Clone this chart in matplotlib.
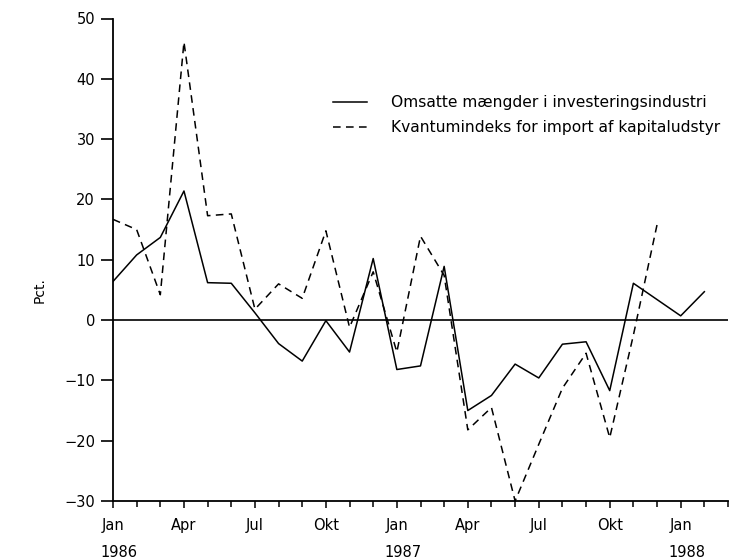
import matplotlib
matplotlib.use("Agg")
import matplotlib.pyplot as plt
import numpy as np

# Data (monthly, Jan 1986 onward)
omsatte = [6.4, 10.8, 13.7, 21.4, 6.2, 6.1, 1.2, -3.9, -6.8, -0.1, -5.3, 10.2,
           -8.2, -7.6, 8.9, -15.0, -12.5, -7.3, -9.6, -4.0, -3.6, -11.7, 6.1, 3.4,
           0.7, 4.7]
kvantum = [16.7, 15.0, 4.2, 46.1, 17.3, 17.6, 1.8, 6.0, 3.6, 14.8, -1.2, 8.0,
           -5.3, 13.9, 7.4, -18.2, -14.5, -30.0, -20.6, -11.3, -5.5, -19.5, -2.5, 15.8]
label_omsatte = "Omsatte mængder i investeringsindustri"
label_kvantum = "Kvantumindeks for import af kapitaludstyr"
month_labels = ["Jan", "Apr", "Jul", "Okt", "Jan", "Apr", "Jul", "Okt", "Jan"]
year_labels = ["1986", "1987", "1988"]
y_ticks = [-30, -20, -10, 0, 10, 20, 30, 40, 50]

plt.rcParams['font.family'] = ['DejaVu Sans']
fig = plt.figure(figsize=(7.33, 5.6), dpi=100)
ax = fig.add_axes([113/733, 1-501/560, (728-113)/733, (501-18.5)/560])

x1 = np.arange(len(omsatte))
x2 = np.arange(len(kvantum))
ax.plot(x1, omsatte, color='black', lw=1.1, label=label_omsatte)
ln, = ax.plot(x2, kvantum, color='black', lw=1.1, label=label_kvantum)
ln.set_dashes((5, 3.5))
ax.axhline(0, color='black', lw=1.2)

ax.set_xlim(0, 26)
ax.set_ylim(-30, 50)
for s in ['top', 'right']:
    ax.spines[s].set_visible(False)
ax.spines['left'].set_linewidth(1.3)
ax.spines['bottom'].set_linewidth(1.3)

ax.set_yticks(y_ticks)
ax.set_yticklabels([str(v).replace('-', '\u2212') for v in y_ticks], fontsize=10.5)
ax.tick_params(axis='y', direction='out', length=9, width=1.2, pad=4)

ax.set_xticks(np.arange(0, 25, 3))
ax.set_xticklabels(month_labels, fontsize=10.5)
ax.set_xticks(np.arange(0, 27, 1), minor=True)
ax.tick_params(axis='x', which='major', direction='out', length=5, width=1.1, pad=7)
ax.tick_params(axis='x', which='minor', direction='out', length=4, width=1.1)

for i, yl in enumerate(year_labels):
    ax.text(i * 12 + 0.25, -0.106, yl, transform=ax.get_xaxis_transform(),
            ha='center', va='center', fontsize=10.5)

ax.set_ylabel("Pct.", fontsize=10)
ax.yaxis.set_label_coords(-0.108, 0.437)

leg = ax.legend(loc='upper left', bbox_to_anchor=(333/733, 1-95/560),
                bbox_transform=fig.transFigure, frameon=False, fontsize=11.2,
                handlelength=2.2, handletextpad=1.5, borderpad=0, borderaxespad=0,
                labelspacing=0.65)

fig.savefig("out.png", dpi=100)
